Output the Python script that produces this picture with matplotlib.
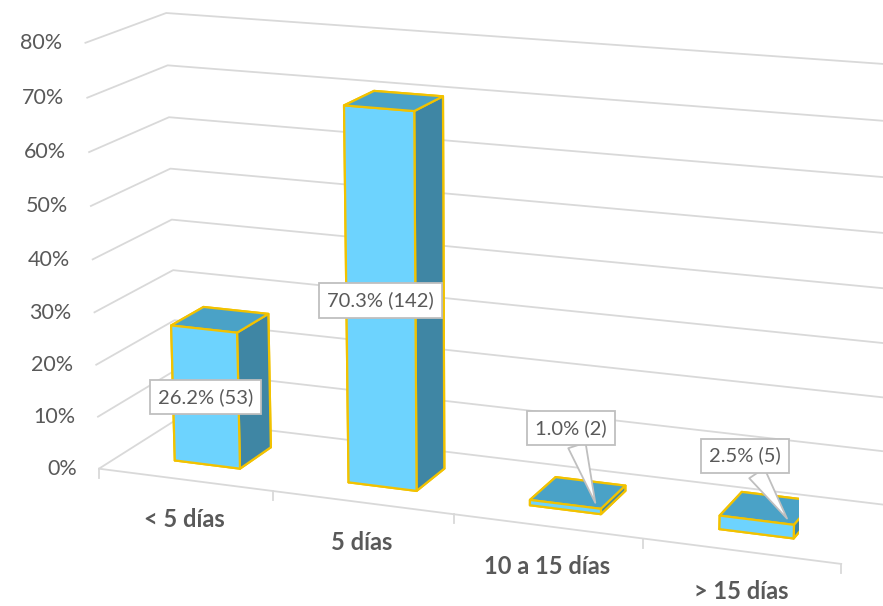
import matplotlib
matplotlib.use("Agg")
import matplotlib.pyplot as plt
from matplotlib.lines import Line2D
from mpl_toolkits.mplot3d import proj3d

# data
categories = ["< 5 días", "5 días", "10 a 15 días", "> 15 días"]
percentages = [26.2, 70.3, 1.0, 2.5]
counts = [53, 142, 2, 5]
z_ticks = [0, 10, 20, 30, 40, 50, 60, 70, 80]

front_col = "#6DD3FE"
top_col = "#4AA2C7"
side_col = "#3F86A4"
edge_col = "#F2C200"
grid_col = "#D9D9D9"
text_col = "#595959"

plt.rcParams["font.family"] = ["Lato", "DejaVu Sans"]
plt.rcParams["grid.color"] = grid_col
plt.rcParams["grid.linewidth"] = 1.3

fig = plt.figure(figsize=(8.83, 6.06), dpi=100)
ax = fig.add_axes([0.041, 0.003, 1.0, 1.06], projection="3d",
                  proj_type="persp", focal_length=0.9)
ax.view_init(elev=15, azim=-69)
ax.set_box_aspect((4.15, 0.95, 2.35), zoom=1.40)

ax.set_xlim(0, 4)
ax.set_ylim(0, 1)
ax.set_zlim(0, 80)

# bars
bw, bd, by0 = 0.38, 0.42, 0.29
xs = [i + 0.5 - bw / 2 for i in range(len(categories))]
face_cols = []
for _ in categories:
    # -z, +z, -y, +y, -x, +x
    face_cols += [top_col, top_col, front_col, side_col, side_col, side_col]
ax.bar3d(xs, [by0] * len(xs), [0] * len(xs), bw, bd, percentages,
         color=face_cols, shade=False, edgecolor=edge_col, linewidth=1.6)

# walls / axes styling
for axis in (ax.xaxis, ax.yaxis, ax.zaxis):
    axis.set_pane_color((1, 1, 1, 0))
    axis.pane.set_edgecolor((1, 1, 1, 0))
    axis.line.set_color((1, 1, 1, 0))
ax.set_xticks([])
ax.set_yticks([])
ax.set_zticks(z_ticks)
ax.set_zticklabels([])
ax.tick_params(axis="z", color=(1, 1, 1, 0))

fig.canvas.draw()


def to_px(x, y, z):
    x2, y2, _ = proj3d.proj_transform(x, y, z, ax.get_proj())
    return ax.transData.transform((x2, y2))


W, H = fig.bbox.width, fig.bbox.height

# floor front edge with category ticks
p0, p1 = to_px(0, 0, 0), to_px(len(categories), 0, 0)
fig.add_artist(Line2D([p0[0] / W, p1[0] / W], [p0[1] / H, p1[1] / H],
                      color=grid_col, lw=1.3))
for b in range(len(categories) + 1):
    q = to_px(b, 0, 0)
    fig.add_artist(Line2D([q[0] / W] * 2, [q[1] / H, (q[1] - 9) / H],
                          color=grid_col, lw=1.3))

for t in z_ticks:
    px, py = to_px(0, 0, t)
    fig.text((px - 22) / W, py / H, f"{t}%", ha="right", va="center",
             fontsize=15.5, color=text_col)

for i, c in enumerate(categories):
    px, py = to_px(i + 0.5, 0, 0)
    fig.text(px / W, (py - 40) / H, c, ha="center", va="center",
             fontsize=17, fontweight="bold", color=text_col)

box = dict(boxstyle="square,pad=0.4", fc="white", ec="#BFBFBF", lw=1.3)
for i, (p, n) in enumerate(zip(percentages, counts)):
    label = f"{p:.1f}% ({n})"
    if p > 10:
        px, py = to_px(i + 0.5, by0, p / 2)
        fig.text(px / W, py / H, label, ha="center", va="center",
                 fontsize=14.5, color=text_col, bbox=box)
    else:
        px, py = to_px(i + 0.5 + bw * 0.35, by0 + bd * 0.2, p)
        off = (-24, 75) if i == 2 else (-42, 63)
        ax.annotate(label, xy=(px, py), xycoords="figure pixels",
                    xytext=(px + off[0], py + off[1]),
                    textcoords="figure pixels", ha="center", va="center",
                    fontsize=14.5, color=text_col, bbox=box,
                    arrowprops=dict(arrowstyle="wedge,tail_width=0.9",
                                    fc="white", ec="#BFBFBF", lw=1.3,
                                    shrinkA=0, shrinkB=0))

fig.savefig("out.png", dpi=100)
